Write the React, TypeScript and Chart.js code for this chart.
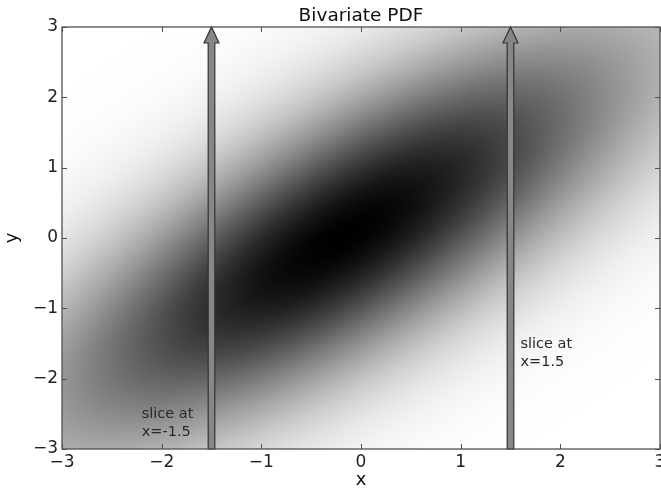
import { useEffect, useRef } from "react";
import { Chart, registerables } from "chart.js";

Chart.register(...registerables);

// ---- data ----
const TITLE = "Bivariate PDF";
const X_LABEL = "x";
const Y_LABEL = "y";
const X_TICKS = [-3, -2, -1, 0, 1, 2, 3];
const Y_TICKS = [-3, -2, -1, 0, 1, 2, 3];
// bivariate normal parameters
const MEAN = [-0.2, 0.0];
const COV_X = [4.4, 3.3];
const COV_Y = [3.3, 4.1];
// slices (arrows) and their labels
const SLICE_X = [-1.5, 1.5];
const SLICE_TEXT = [
  ["slice at", "x=-1.5"],
  ["slice at", "x=1.5"],
];
const SLICE_TEXT_X = [-2.2, 1.6];
const SLICE_TEXT_Y = [-2.82, -1.82];

const FONT = "'DejaVu Sans', 'Liberation Sans', sans-serif";
const fmt = (v: any) => String(v).replace("-", "\u2212");

function pdfRatio(x: number, y: number) {
  const sxx = COV_X[0];
  const sxy = COV_X[1];
  const syy = COV_Y[1];
  const det = sxx * syy - sxy * sxy;
  const dx = x - MEAN[0];
  const dy = y - MEAN[1];
  const d2 = (syy * dx * dx - 2 * sxy * dx * dy + sxx * dy * dy) / det;
  return Math.exp(-0.5 * d2);
}

const heatPlugin = {
  id: "bivariateHeat",
  beforeDatasetsDraw(chart: any) {
    const { ctx, chartArea, scales } = chart;
    const xs = scales.x;
    const ys = scales.y;
    const w = Math.round(chartArea.right - chartArea.left);
    const h = Math.round(chartArea.bottom - chartArea.top);
    const off = document.createElement("canvas");
    off.width = w;
    off.height = h;
    const octx = off.getContext("2d")!;
    const img = octx.createImageData(w, h);
    for (let j = 0; j < h; j++) {
      const yv = ys.getValueForPixel(chartArea.top + j + 0.5);
      for (let i = 0; i < w; i++) {
        const xv = xs.getValueForPixel(chartArea.left + i + 0.5);
        const r = pdfRatio(xv, yv);
        const g = Math.round(255 * (1 - r));
        const k = (j * w + i) * 4;
        img.data[k] = g;
        img.data[k + 1] = g;
        img.data[k + 2] = g;
        img.data[k + 3] = 255;
      }
    }
    octx.putImageData(img, 0, 0);
    ctx.save();
    ctx.drawImage(off, chartArea.left, chartArea.top);
    ctx.restore();
  },
  afterDraw(chart: any) {
    const { ctx, chartArea, scales } = chart;
    const xs = scales.x;
    const ys = scales.y;
    const { left, right, top, bottom } = chartArea;

    // arrows (slices)
    SLICE_X.forEach((sx) => {
      const cx = xs.getPixelForValue(sx);
      const yTip = ys.getPixelForValue(3);
      const yBase = ys.getPixelForValue(-3);
      const sw = 3.3;
      const hw = 7.5;
      const hl = 16;
      ctx.save();
      ctx.beginPath();
      ctx.moveTo(cx - sw, yBase);
      ctx.lineTo(cx - sw, yTip + hl);
      ctx.lineTo(cx - hw, yTip + hl);
      ctx.lineTo(cx, yTip);
      ctx.lineTo(cx + hw, yTip + hl);
      ctx.lineTo(cx + sw, yTip + hl);
      ctx.lineTo(cx + sw, yBase);
      ctx.closePath();
      ctx.fillStyle = "#878787";
      ctx.fill();
      ctx.lineWidth = 1.2;
      ctx.strokeStyle = "#333333";
      ctx.lineJoin = "miter";
      ctx.stroke();
      ctx.restore();
    });

    // slice labels
    ctx.save();
    ctx.font = `14.5px ${FONT}`;
    ctx.fillStyle = "#2a2a2a";
    ctx.textAlign = "left";
    ctx.textBaseline = "alphabetic";
    SLICE_TEXT.forEach((lines, i) => {
      const px = xs.getPixelForValue(SLICE_TEXT_X[i]);
      const py = ys.getPixelForValue(SLICE_TEXT_Y[i]);
      const lh = 18;
      lines.forEach((ln, k) => {
        ctx.fillText(ln, px, py - (lines.length - 1 - k) * lh);
      });
    });
    ctx.restore();

    // frame
    ctx.save();
    ctx.strokeStyle = "#505050";
    ctx.lineWidth = 1.3;
    ctx.strokeRect(left, top, right - left, bottom - top);

    // inward ticks on all sides
    const tl = 5;
    ctx.lineWidth = 1;
    ctx.strokeStyle = "#505050";
    ctx.beginPath();
    X_TICKS.forEach((v) => {
      const px = Math.round(xs.getPixelForValue(v)) + 0.5;
      ctx.moveTo(px, bottom);
      ctx.lineTo(px, bottom - tl);
      ctx.moveTo(px, top);
      ctx.lineTo(px, top + tl);
    });
    Y_TICKS.forEach((v) => {
      const py = Math.round(ys.getPixelForValue(v)) + 0.5;
      ctx.moveTo(left, py);
      ctx.lineTo(left + tl, py);
      ctx.moveTo(right, py);
      ctx.lineTo(right - tl, py);
    });
    ctx.stroke();
    ctx.restore();

    // titles
    ctx.save();
    ctx.fillStyle = "#111111";
    ctx.textAlign = "center";
    ctx.textBaseline = "alphabetic";
    ctx.font = `18.5px ${FONT}`;
    ctx.fillText(TITLE, (left + right) / 2, 21);
    ctx.font = `18px ${FONT}`;
    ctx.fillText(X_LABEL, (left + right) / 2, 485);
    ctx.translate(17, (top + bottom) / 2);
    ctx.rotate(-Math.PI / 2);
    ctx.fillText(Y_LABEL, 0, 0);
    ctx.restore();
  },
};

export default function App() {
  const ref = useRef<HTMLCanvasElement>(null);
  useEffect(() => {
    const canvas = ref.current!;
    const tickFont = { family: FONT, size: 17 };
    const chart = new Chart(canvas, {
      type: "scatter",
      data: { datasets: [{ data: [] }] },
      options: {
        responsive: false,
        animation: false,
        events: [],
        layout: { padding: { top: 27, right: 1, left: 0, bottom: 0 } },
        plugins: {
          legend: { display: false },
          title: { display: false },
          tooltip: { enabled: false },
        },
        scales: {
          x: {
            type: "linear",
            min: X_TICKS[0],
            max: X_TICKS[X_TICKS.length - 1],
            afterBuildTicks: (s: any) => {
              s.ticks = X_TICKS.map((v) => ({ value: v }));
            },
            grid: { display: false, drawTicks: false },
            border: { display: false },
            ticks: {
              font: tickFont,
              color: "#222222",
              padding: 3,
              maxRotation: 0,
              autoSkip: false,
              callback: fmt,
            },
            afterFit: (s: any) => {
              s.height = 49;
              s.paddingLeft = 0;
              s.paddingRight = 0;
            },
          },
          y: {
            type: "linear",
            min: Y_TICKS[0],
            max: Y_TICKS[Y_TICKS.length - 1],
            afterBuildTicks: (s: any) => {
              s.ticks = Y_TICKS.map((v) => ({ value: v }));
            },
            grid: { display: false, drawTicks: false },
            border: { display: false },
            ticks: {
              font: tickFont,
              color: "#222222",
              padding: 4,
              autoSkip: false,
              callback: fmt,
            },
            afterFit: (s: any) => {
              s.width = 62;
              s.paddingTop = 0;
              s.paddingBottom = 0;
            },
          },
        },
      } as any,
      plugins: [heatPlugin],
    });
    return () => chart.destroy();
  }, []);
  return (
    <div
      style={{
        position: "absolute",
        left: 0,
        top: 0,
        width: 661,
        height: 498,
        overflow: "hidden",
        background: "#ffffff",
      }}
    >
      <canvas ref={ref} width={661} height={498} style={{ display: "block" }} />
    </div>
  );
}
